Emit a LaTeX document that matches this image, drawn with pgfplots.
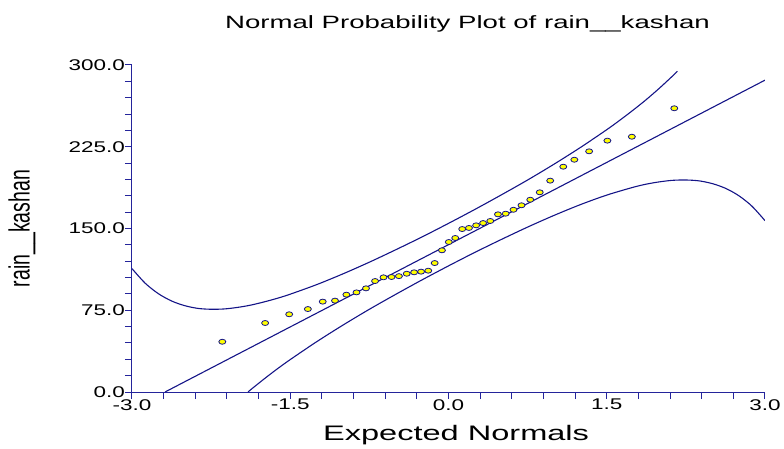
\documentclass[border=0pt]{standalone}
\usepackage{pgfplots}
\pgfplotsset{compat=1.18}
\usepackage{fontspec}
\usepackage{graphicx}
\setmainfont{Liberation Sans}[FakeStretch=1.45]
\newfontfamily\labelfont{Liberation Sans}[FakeStretch=1.55]
\newfontfamily\plainfont{Liberation Sans}
\definecolor{navy}{RGB}{20,20,135}
\definecolor{axisnavy}{RGB}{36,36,155}
\definecolor{ptyellow}{RGB}{255,255,0}

\begin{document}
\begin{tikzpicture}
\path[use as bounding box] (-132bp,-57bp) rectangle (652bp,392bp);
\begin{axis}[
  at={(0,0)}, anchor=south west, scale only axis,
  width=633bp, height=327bp,
  xmin=-3, xmax=3, ymin=0, ymax=300,
  axis lines*=left,
  axis line style={axisnavy, line width=1bp, -},
  xtick={-3,-1.5,0,1.5,3}, xticklabels={-3.0,-1.5,0.0,1.5,3.0},
  ytick={0,75,150,225,300}, yticklabels={0.0,75.0,150.0,225.0,300.0},
  minor x tick num=4, minor y tick num=4,
  tick align=outside, major tick length=7bp, minor tick length=7bp,
  tick style={axisnavy, line width=1bp},
  ticklabel style={font=\fontsize{15.5bp}{18bp}\selectfont, text=black},
  xticklabel style={anchor=north, inner sep=0pt, yshift=0bp},
  yticklabel style={anchor=east, inner sep=0pt, xshift=0bp},
  title={Normal Probability Plot of rain\_\_kashan},
  title style={at={(axis description cs:0.53,1.106)}, anchor=center,
    font=\labelfont\fontsize{17.8bp}{21bp}\selectfont},
  xlabel={Expected Normals},
  xlabel style={at={(axis description cs:0.512,-0.1315)}, anchor=center,
    font=\labelfont\fontsize{21bp}{24bp}\selectfont},
  ylabel={\scalebox{1}[1.5]{\plainfont\fontsize{19.5bp}{24bp}\selectfont rain\_\_kashan}},
  ylabel style={at={(axis description cs:-0.1738,0.5)}, anchor=center, rotate=0},
  clip=true,
]
% reference line
\addplot[navy, line width=1.1bp] coordinates {(-2.687,0) (3,286.1)};
% upper confidence band
\addplot[navy, line width=1.1bp, smooth] coordinates {
(-3,113.2) (-2.875,99.8) (-2.75,90.2) (-2.625,83.5) (-2.5,79.2) (-2.375,76.7)
(-2.25,75.9) (-2.125,76.2) (-2,77.6) (-1.875,79.7) (-1.75,82.6) (-1.625,85.9)
(-1.5,89.75) (-1.25,98.5) (-1,108.4) (-0.75,119.1) (-0.5,130.5) (-0.25,142.3)
(0,154.7) (0.25,167.5) (0.5,180.8) (0.75,194.5) (1,209.0) (1.25,224.3)
(1.5,240.65) (1.625,249.4) (1.75,258.6) (1.875,268.3) (2,278.8) (2.125,290.0)
(2.17,294.3)};
% lower confidence band
\addplot[navy, line width=1.1bp, smooth] coordinates {
(-1.9,0) (-1.875,2.1) (-1.75,11.8) (-1.625,21.05) (-1.5,29.75) (-1.25,46.1)
(-1,61.4) (-0.75,75.9) (-0.5,89.6) (-0.25,102.9) (0,115.7) (0.25,128.1)
(0.5,139.9) (0.75,151.3) (1,162.0) (1.25,171.9) (1.5,180.65) (1.75,187.8)
(1.875,190.7) (2,192.8) (2.125,194.2) (2.25,194.5) (2.375,193.7) (2.5,191.2)
(2.625,186.9) (2.75,180.2) (2.875,170.6) (3,157.2)};
% data points
\addplot[only marks, mark=*, mark size=2.5bp,
  mark options={fill=ptyellow, draw=navy, line width=0.8bp, xscale=1.4}]
coordinates {
(-2.144,46.1) (-1.738,63.3) (-1.510,71.3) (-1.333,76.1) (-1.192,82.9)
(-1.076,83.8) (-0.968,89.3) (-0.872,91.4) (-0.782,95.1) (-0.696,101.8)
(-0.616,105.2) (-0.540,105.5) (-0.470,106.3) (-0.396,108.5) (-0.326,109.8)
(-0.260,110.4) (-0.192,111.3) (-0.131,118.3) (-0.062,130.0) (0.003,137.6)
(0.064,141.3) (0.130,149.5) (0.194,150.5) (0.262,152.9) (0.328,155.0)
(0.396,156.9) (0.469,163.0) (0.542,163.6) (0.616,167.2) (0.692,171.3)
(0.775,176.4) (0.865,183.2) (0.964,193.9) (1.088,206.7) (1.193,213.1)
(1.333,220.8) (1.506,230.6) (1.738,234.2) (2.140,260.3)};
\end{axis}
\end{tikzpicture}
\end{document}
